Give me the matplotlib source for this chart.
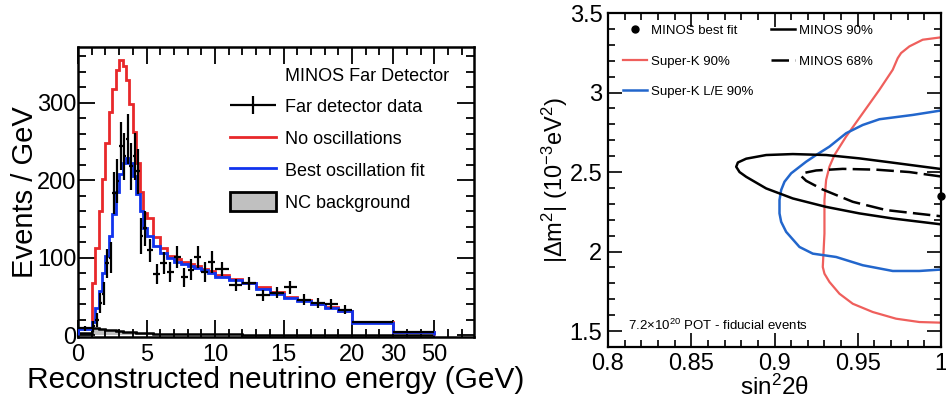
import numpy as np
import matplotlib
matplotlib.use("Agg")
import matplotlib.pyplot as plt
from matplotlib.lines import Line2D
from matplotlib.patches import Patch
from matplotlib.legend_handler import HandlerErrorbar

plt.rcParams['font.family'] = ['Liberation Sans', 'DejaVu Sans']
plt.rcParams['mathtext.fontset'] = 'custom'
plt.rcParams['mathtext.rm'] = 'Liberation Sans'
plt.rcParams['mathtext.it'] = 'Liberation Sans:italic'
plt.rcParams['mathtext.bf'] = 'Liberation Sans:bold'

# ---------------- Left panel data (events / GeV) ----------------
bin_edges = [0, 1.0, 1.25, 1.5, 1.75, 2.0, 2.25, 2.5, 2.75, 3.0, 3.25, 3.5, 3.75,
             4.0, 4.25, 4.5, 4.75, 5.0, 5.5, 6.0, 6.5, 7.0, 7.5, 8.0, 8.5, 9.0,
             9.5, 10, 11, 12, 13, 14, 15, 16, 17, 18, 19, 20, 30, 50]

no_osc = [10, 68, 113, 160, 202, 248, 288, 318, 342, 355, 348, 330, 298, 262,
          222, 185, 158, 152, 127, 113, 103, 98, 95, 92, 89, 86, 83,
          78, 73, 68, 62, 56, 50, 46, 41, 37, 32, 17, 4]

best_fit = [8, 17, 35, 57, 80, 103, 128, 157, 185, 208, 222, 229, 222, 205,
            183, 160, 138, 128, 116, 106, 100, 95, 92, 89, 87, 84, 81,
            76, 72, 67, 60, 54, 48, 44, 40, 36, 31, 16, 4]

nc_bkg = [3, 9, 9, 8.5, 8, 7.5, 7, 6.5, 6, 5.5, 5, 4.6, 4.2, 3.9, 3.6, 3.3, 3.0,
          2.8, 2.5, 2.3, 2.1, 2.0, 1.9, 1.8, 1.7, 1.6, 1.5,
          1.4, 1.3, 1.2, 1.1, 1.0, 0.9, 0.8, 0.7, 0.6, 0.5, 0.4, 0.2]

data_vals = [9, 12, 20, 42, 54, 93, 100, 184, 199, 244, 231, 253, 218, 231,
             212, 128, 138, 110, 79, 93, 82, 101, 75, 85, 101, 82, 95,
             86, 65, 67, 52, 55, 62, 46, 42, 41, 33, 17, 5]

data_errs = [3, 7, 9, 13, 15, 19, 20, 27, 28, 31, 30, 32, 30, 30,
             29, 23, 23, 15, 13, 14, 13, 14, 12, 13, 14, 13, 14,
             9, 8, 8, 7, 7, 8, 7, 6.5, 6.4, 5.7, 1.3, 0.5]

energy_ticks = [0, 5, 10, 15, 20, 30, 50]

# ---------------- Right panel contours ----------------
minos90_x = [0.9994, 0.971, 0.951, 0.931, 0.911, 0.895, 0.883, 0.878, 0.877,
             0.879, 0.883, 0.895, 0.911, 0.931, 0.951, 0.971, 0.9994]
minos90_y = [2.520, 2.559, 2.586, 2.607, 2.613, 2.607, 2.584, 2.560, 2.533,
             2.500, 2.470, 2.397, 2.334, 2.281, 2.240, 2.208, 2.172]

minos68_x = [1.0, 0.981, 0.961, 0.941, 0.925, 0.918, 0.916, 0.919, 0.929, 0.947, 0.967, 1.0]
minos68_y = [2.472, 2.500, 2.515, 2.520, 2.510, 2.495, 2.475, 2.445, 2.390, 2.313, 2.261, 2.222]

sk_x = [1.0, 0.989, 0.981, 0.976, 0.974, 0.971, 0.963, 0.953, 0.943, 0.936, 0.933,
        0.931, 0.930, 0.930, 0.929, 0.930, 0.933, 0.939, 0.947, 0.959, 0.973, 0.987, 1.0]
sk_y = [3.347, 3.332, 3.290, 3.248, 3.216, 3.143, 3.017, 2.870, 2.723, 2.607, 2.534,
        2.450, 2.324, 2.113, 1.903, 1.861, 1.809, 1.735, 1.672, 1.620, 1.578, 1.557, 1.553]

skle_x = [1.0, 0.983, 0.963, 0.953, 0.943, 0.933, 0.925, 0.919, 0.910, 0.906, 0.904,
          0.903, 0.903, 0.904, 0.907, 0.915, 0.923, 0.937, 0.953, 0.971, 0.987, 1.0]
skle_y = [2.887, 2.859, 2.832, 2.796, 2.744, 2.660, 2.607, 2.565, 2.492, 2.439, 2.387,
          2.324, 2.240, 2.187, 2.124, 2.029, 1.987, 1.966, 1.914, 1.878, 1.878, 1.887]

best_x = [1.0]
best_y = [2.35]

# ---------------- Figure ----------------
fig = plt.figure(figsize=(9.46, 4.0), dpi=100)
ax1 = fig.add_axes([78 / 946, 63 / 400, 396 / 946, 290 / 400])
ax2 = fig.add_axes([608 / 946, 53 / 400, 333 / 946, 334 / 400])

RED = '#e8282a'
BLUE = '#1133ee'


def fwd(e):
    e = np.asarray(e, dtype=float)
    return np.where(e <= 20, e, np.where(e <= 30, 20 + (e - 20) * 0.3, 23 + (e - 30) * 0.15))


def inv(u):
    u = np.asarray(u, dtype=float)
    return np.where(u <= 20, u, np.where(u <= 23, 20 + (u - 20) / 0.3, 30 + (u - 23) / 0.15))


ax1.set_xscale('function', functions=(fwd, inv))

edges = np.array(bin_edges, dtype=float)
centers = 0.5 * (edges[:-1] + edges[1:])
halfw = 0.5 * (edges[1:] - edges[:-1])

ax1.stairs(nc_bkg, edges, fill=True, color='#c0c0c0', zorder=1)
ax1.stairs(nc_bkg, edges, color='black', lw=1.8, zorder=1.5, baseline=None)
ax1.stairs(no_osc, edges, color=RED, lw=2.0, zorder=2)
ax1.stairs(best_fit, edges, color=BLUE, lw=2.0, zorder=3)
eb = ax1.errorbar(centers, data_vals, xerr=halfw, yerr=data_errs, fmt='none',
                  ecolor='black', elinewidth=1.6, capsize=0, zorder=4)

ax1.set_xlim(0, float(inv(28.9)))
ax1.set_ylim(-2, 372)

ax1.set_xticks(energy_ticks)
ax1.set_xticklabels([str(t) for t in energy_ticks])
minor_u = [u for u in range(1, 29) if u not in (5, 10, 15, 20, 23, 26)]
ax1.set_xticks([float(inv(u)) for u in minor_u], minor=True)
ax1.set_yticks([0, 100, 200, 300])
ax1.set_yticks([v for v in range(20, 372, 20) if v % 100 != 0], minor=True)

ax1.tick_params(which='both', direction='in', top=True, right=True, width=1.3,
                labelsize=17)
ax1.tick_params(which='major', length=12)
ax1.tick_params(which='minor', length=6)
ax1.tick_params(axis='y', pad=1)
ax1.tick_params(axis='x', pad=5)
for s in ax1.spines.values():
    s.set_linewidth(1.8)

ax1.set_xlabel('Reconstructed neutrino energy (GeV)', fontsize=21.5, labelpad=0)
ax1.set_ylabel('Events / GeV', fontsize=21, labelpad=-1)

handles = [Patch(facecolor='none', edgecolor='none'),
           eb,
           Line2D([], [], color=RED, lw=2.0),
           Line2D([], [], color=BLUE, lw=2.0),
           Patch(facecolor='#c0c0c0', edgecolor='black', lw=2.0)]
labels = ['MINOS Far Detector', 'Far detector data', 'No oscillations',
          'Best oscillation fit', 'NC background']
ax1.legend(handles, labels, loc='upper left', bbox_to_anchor=(0.385, 0.937),
           frameon=False, fontsize=13, handlelength=2.5, handleheight=1.2,
           handletextpad=0.5, labelspacing=0.69, borderpad=0, borderaxespad=0,
           handler_map={type(eb): HandlerErrorbar(xerr_size=1.25, yerr_size=0.5)})

# ---------------- Right panel ----------------
SKRED = '#ef5f5c'
SKBLUE = '#2266cc'
ax2.plot(sk_x, sk_y, color=SKRED, lw=1.6)
ax2.plot(skle_x, skle_y, color=SKBLUE, lw=1.8)
ax2.plot(minos90_x, minos90_y, color='black', lw=1.8)
ax2.plot(minos68_x, minos68_y, color='black', lw=1.8, dashes=(7, 2.5))
ax2.plot(best_x, best_y, 'o', color='black', ms=5, clip_on=False, zorder=5)

ax2.set_xlim(0.8, 1.0)
ax2.set_ylim(1.4, 3.5)
ax2.set_xticks([0.8, 0.85, 0.9, 0.95, 1.0])
ax2.set_xticklabels(['0.8', '0.85', '0.9', '0.95', '1'])
ax2.set_xticks(np.round(np.arange(0.81, 1.0, 0.01), 3), minor=True)
ax2.set_yticks([1.5, 2.0, 2.5, 3.0, 3.5])
ax2.set_yticklabels(['1.5', '2', '2.5', '3', '3.5'])
ax2.set_yticks(np.round(np.arange(1.4, 3.5, 0.1), 3), minor=True)
ax2.tick_params(which='both', direction='in', top=True, right=True, width=1.2,
                labelsize=17, pad=4)
ax2.tick_params(which='major', length=10)
ax2.tick_params(which='minor', length=5)
for s in ax2.spines.values():
    s.set_linewidth(1.6)

ax2.set_xlabel(r'sin$^{2}$2θ', fontsize=17.5, labelpad=0)
ax2.set_ylabel(r'|Δm$^{2}$| (10$^{-3}$eV$^{2}$)', fontsize=17, labelpad=0)

h2 = [Line2D([], [], marker='o', ls='none', color='black', ms=5),
      Line2D([], [], color=SKRED, lw=1.6),
      Line2D([], [], color=SKBLUE, lw=1.8),
      Line2D([], [], color='black', lw=1.8),
      Line2D([], [], color='black', lw=1.8, dashes=(7, 2.5))]
l2 = ['MINOS best fit', 'Super-K 90%', 'Super-K L/E 90%', 'MINOS 90%', 'MINOS 68%']
ax2.legend(h2, l2, ncol=2, loc='upper left', bbox_to_anchor=(0.045, 0.965),
           frameon=False, fontsize=9.5, handlelength=1.8, handletextpad=0.3,
           labelspacing=1.39, columnspacing=1.35, borderpad=0, borderaxespad=0)

ax2.text(0.06, 0.065, r'7.2$\times$10$^{20}$ POT - fiducial events',
         transform=ax2.transAxes, fontsize=9.5, ha='left', va='center')

fig.savefig('out.png', dpi=100)
